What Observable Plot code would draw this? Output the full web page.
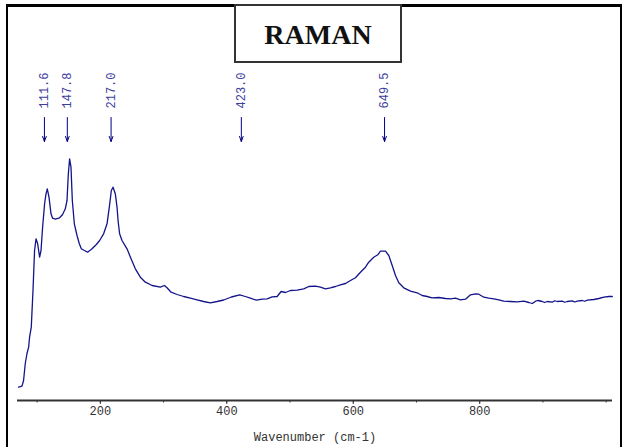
<!DOCTYPE html>
<html>
<head>
<meta charset="utf-8">
<script src="https://cdn.jsdelivr.net/npm/d3@7"></script>
<script src="https://cdn.jsdelivr.net/npm/@observablehq/plot@0.6"></script>
<style>
  html, body { margin: 0; padding: 0; background: #fff; overflow: hidden; }
  #wrap { position: relative; width: 625px; height: 447px; }
  #chart { position: absolute; left: 0; top: 0; }
  #frame { position: absolute; left: 6px; top: 4px; width: 612px; height: 470px;
           border: 2px solid #000; border-top-width: 3px; box-sizing: content-box; pointer-events: none; }
  #titlebox { position: absolute; left: 234px; top: 4px; width: 164px; height: 55px;
              border: 2px solid #333; background: #fff; }
  #title { position: absolute; left: 234px; top: 21px; width: 168px; line-height: 28px;
           text-align: center; font-family: "Liberation Serif", "Times New Roman", serif;
           font-weight: bold; font-size: 28px; color: #111; }
</style>
</head>
<body>
<div id="wrap">
  <div id="chart"></div>
  <div id="frame"></div>
  <div id="titlebox"></div>
  <div id="title">RAMAN</div>
</div>
<script>
// Raman spectrum (arbitrary intensity units)
const wavenumber = [
  70.7, 76.1, 78.6, 81.3, 84.0, 86.6, 88.1, 90.8, 93.5, 96.0,
  98.3, 100.8, 104.0, 106.2, 108.7, 111.9, 114.1, 116.1, 118.8, 122.0,
  124.5, 128.8, 135.6, 140.3, 144.6, 147.3, 149.4, 151.4, 153.6, 155.7,
  158.9, 163.1, 166.8, 169.9, 174.7, 179.9, 186.9, 193.7, 198.9, 205.2,
  210.6, 214.2, 217.4, 220.1, 223.7, 226.4, 228.2, 230.5, 234.3, 242.2,
  248.6, 255.4, 263.3, 271.2, 281.8, 294.9, 301.3, 305.5, 311.9, 321.4,
  331.8, 342.4, 353.0, 363.4, 374.1, 384.7, 395.1, 407.3, 420.4, 429.4,
  437.3, 446.8, 455.9, 463.8, 471.7, 479.6, 485.9, 492.7, 500.6, 511.2,
  521.7, 529.6, 540.2, 548.1, 556.0, 563.9, 571.8, 579.7, 587.7, 595.6,
  603.5, 611.4, 619.3, 624.5, 632.4, 638.8, 643.0, 651.0, 656.2, 661.6,
  666.8, 672.0, 679.9, 690.5, 701.1, 709.0, 716.9, 724.8, 735.3, 745.9,
  753.8, 761.7, 769.6, 777.5, 785.4, 793.4, 798.6, 806.5, 814.4, 822.3,
  830.2, 838.1, 848.7, 859.3, 869.8, 877.7, 883.1, 888.3, 891.9, 898.9,
  902.8, 906.8, 914.7, 918.7, 922.6, 930.5, 934.5, 938.4, 946.4, 950.4,
  954.3, 962.2, 966.2, 970.1, 980.5, 988.4, 996.4, 1004.3, 1009.7
];
const intensity = [
  266, 286, 400, 740, 940, 1066, 1266, 1466, 2200, 3000,
  3234, 3140, 2866, 3000, 3466, 3940, 4134, 4234, 4066, 3734,
  3646, 3626, 3654, 3720, 3834, 4000, 4534, 4834, 4666, 4000,
  3534, 3300, 3134, 3034, 3000, 2966, 3034, 3120, 3200, 3334,
  3534, 3866, 4200, 4266, 4134, 3866, 3580, 3334, 3200, 3034,
  2834, 2634, 2466, 2366, 2300, 2266, 2300, 2254, 2166, 2120,
  2080, 2046, 2014, 1980, 1954, 1980, 2010, 2070, 2114, 2080,
  2046, 2006, 2026, 2034, 2074, 2080, 2180, 2160, 2200, 2206,
  2234, 2280, 2286, 2266, 2234, 2254, 2280, 2314, 2340, 2400,
  2456, 2566, 2666, 2766, 2866, 2914, 2986, 2986, 2900, 2700,
  2500, 2354, 2254, 2186, 2154, 2100, 2080, 2054, 2060, 2040,
  2034, 2046, 2014, 2026, 2114, 2134, 2126, 2066, 2046, 2034,
  2014, 1986, 1980, 1974, 1986, 1960, 1940, 1986, 2000, 1980,
  1960, 1980, 1966, 1995, 1980, 1986, 1965, 1980, 1994, 1970,
  1986, 2000, 1985, 2006, 2020, 2040, 2066, 2080, 2080
];
const peakPositions = [111.6, 147.8, 217.0, 423.0, 649.5];
const peakLabels = ["111.6", "147.8", "217.0", "423.0", "649.5"];
const majorTicks = [200, 400, 600, 800];
const minorTicks = [100, 200, 300, 400, 500, 600, 700, 800, 900, 1000];
const xTitle = "Wavenumber (cm-1)";

const spectrum = wavenumber.map((w, i) => ({w, v: intensity[i]}));
const peaks = peakPositions.map((p, i) => ({p, label: peakLabels[i]}));

const mono = "'Liberation Mono', 'Courier New', monospace";

const chart = Plot.plot({
  width: 625,
  height: 447,
  marginLeft: 17,
  marginRight: 13,
  marginTop: 5,
  marginBottom: 47,
  style: {background: "transparent", fontFamily: mono, fontSize: "12px"},
  x: {domain: [69, 1010], label: null},
  y: {domain: [0, 7900], axis: null},
  marks: [
    Plot.axisX({ticks: minorTicks, tickSize: 2.5, tickFormat: () => "", stroke: "#333"}),
    Plot.axisX({ticks: majorTicks, tickSize: 4, tickPadding: 2, tickFormat: d => String(d),
                fill: "#333", stroke: "#333", fontFamily: mono, fontSize: 12}),
    Plot.ruleY([0], {stroke: "#333", strokeWidth: 2}),
    Plot.line(spectrum, {x: "w", y: "v", stroke: "#14148a", strokeWidth: 1.3}),
    Plot.arrow(peaks, {x1: "p", x2: "p", y1: () => 5660, y2: () => 5180,
                       stroke: "#000080", strokeWidth: 1, headAngle: 40, headLength: 8}),
    Plot.text(peaks, {x: "p", y: () => 5840, text: "label", rotate: -90,
                      textAnchor: "start", lineAnchor: "middle",
                      fill: "#4040a0", fontFamily: mono, fontSize: 12}),
    Plot.text([xTitle], {frameAnchor: "bottom", dy: 37, text: d => d,
                         fill: "#333", fontFamily: mono, fontSize: 12, lineAnchor: "middle"})
  ]
});
document.getElementById("chart").appendChild(chart);
</script>
</body>
</html>
